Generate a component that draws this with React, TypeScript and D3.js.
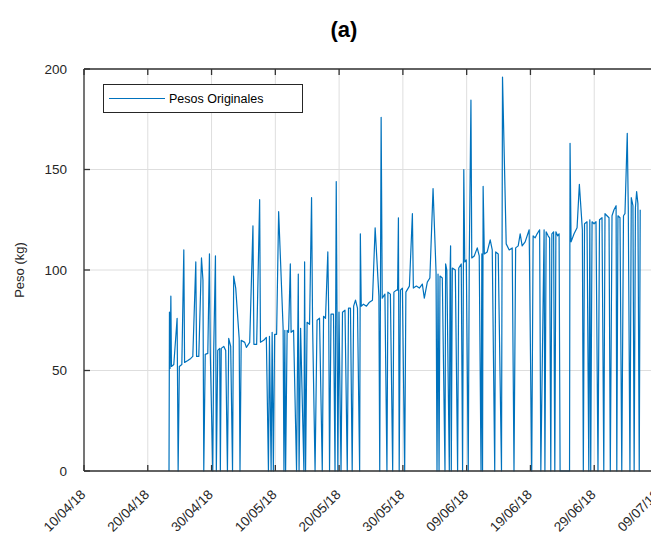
import React from 'react';
import * as d3 from 'd3';

// fecha de referencia (10/04/18), los registros van en dias desde ella
const inicio = Date.UTC(2018, 3, 10);

const diasTicks = [0, 10, 20, 30, 40, 50, 60, 70, 80, 90];
const etiquetasX = ['10/04/18', '20/04/18', '30/04/18', '10/05/18', '20/05/18', '30/05/18', '09/06/18', '19/06/18', '29/06/18', '09/07/18'];
const ticksY = [0, 50, 100, 150, 200];

// [dia, peso kg]
const pesosOriginales: [number, number][] = [
  [13.33, 0], [13.40, 79], [13.49, 51], [13.62, 87], [13.71, 52], [14.08, 53], [14.60, 76], [14.76, 0], [14.95, 52], [15.34, 53],
  [15.65, 110], [15.77, 54], [16.28, 55], [16.74, 56], [17.06, 57], [17.53, 104], [17.65, 57], [18.00, 57], [18.42, 106], [18.65, 95],
  [18.78, 0], [19.01, 58], [19.41, 58.5], [19.67, 108], [19.80, 59], [20.19, 0], [20.34, 60], [20.61, 107], [20.75, 0], [20.97, 60],
  [21.28, 61], [21.38, 0], [21.52, 61], [21.91, 62], [22.22, 60], [22.49, 0], [22.69, 66], [23.00, 62], [23.29, 0], [23.47, 97],
  [23.79, 91], [24.33, 66], [24.46, 0], [24.65, 65], [25.20, 64], [25.46, 61.5], [25.98, 64], [26.49, 122], [26.64, 63], [27.07, 63],
  [27.54, 135], [27.67, 64], [28.17, 65], [28.59, 66.5], [28.92, 0], [29.08, 67], [29.34, 0], [29.50, 69], [29.69, 0], [29.89, 68],
  [30.20, 68], [30.52, 129], [31.22, 71], [31.35, 0], [31.49, 70], [31.61, 0], [31.85, 70], [32.08, 69], [32.35, 103], [32.47, 69],
  [32.86, 70], [33.33, 0], [33.60, 98], [33.72, 0], [33.96, 71], [34.48, 0], [34.59, 104], [34.74, 0], [34.98, 74], [35.37, 73],
  [35.68, 136], [35.84, 73], [36.23, 0], [36.54, 75], [36.93, 76], [37.36, 0], [37.56, 77], [37.87, 76], [38.23, 109], [38.37, 77],
  [38.50, 0], [38.73, 78], [39.12, 78], [39.36, 0], [39.55, 144], [39.67, 79], [39.80, 0], [39.98, 79], [40.30, 0], [40.53, 79],
  [40.92, 80], [41.28, 0], [41.47, 81], [41.78, 81], [42.05, 0], [42.28, 82], [42.57, 85], [42.88, 81], [43.22, 0], [43.33, 118],
  [43.47, 82], [43.82, 83], [44.29, 82], [44.76, 84], [45.23, 85], [45.65, 121], [46.24, 87], [46.37, 0], [46.59, 176], [46.76, 86],
  [47.18, 88], [47.50, 0], [47.65, 89], [48.04, 88], [48.40, 0], [48.59, 89], [48.98, 90], [49.17, 90], [49.30, 126], [49.42, 0],
  [49.61, 90], [49.92, 91], [50.28, 0], [50.47, 89], [51.02, 92], [51.49, 128], [51.64, 91], [52.11, 92], [52.58, 91], [53.05, 93],
  [53.36, 86], [53.83, 94], [54.23, 96], [54.73, 140.5], [55.20, 99], [55.35, 0], [55.51, 98], [55.67, 0], [55.82, 97], [56.18, 96],
  [56.60, 0], [56.70, 103], [56.89, 100], [57.28, 0], [57.40, 100], [57.48, 112], [57.59, 0], [57.75, 101], [58.22, 100], [58.58, 0],
  [58.76, 101], [59.15, 103], [59.36, 0], [59.55, 150], [59.70, 104], [59.94, 105], [60.25, 0], [60.41, 106], [60.67, 184.5], [60.80, 106],
  [61.19, 107], [61.66, 111], [61.97, 107], [62.25, 0], [62.38, 108], [62.49, 0], [62.58, 141.6], [62.77, 108], [63.22, 109], [63.69, 115],
  [64.01, 110], [64.40, 0], [64.55, 109], [64.95, 108], [65.46, 0], [65.62, 196], [66.20, 113], [66.67, 110], [67.14, 111], [67.42, 0],
  [67.68, 111], [68.08, 112], [68.39, 118], [68.70, 112], [69.17, 114], [69.80, 120], [70.20, 0], [70.42, 117], [70.74, 116], [71.05, 118],
  [71.44, 120], [71.63, 0], [72.14, 120], [72.27, 0], [72.46, 119], [72.77, 117], [73.00, 116], [73.19, 0], [73.36, 118], [73.63, 119],
  [73.82, 0], [73.99, 119], [74.26, 117], [74.49, 118], [74.65, 0], [75.35, 0], [76.13, 0], [76.21, 163], [76.37, 114], [76.84, 118],
  [77.31, 121], [77.67, 142.6], [78.14, 120], [78.29, 0], [78.48, 123], [78.87, 124], [79.15, 0], [79.31, 125], [79.45, 0], [79.66, 124],
  [79.97, 123], [80.28, 124], [80.59, 0], [80.83, 125], [81.22, 126], [81.50, 0], [81.69, 128], [82.00, 127], [82.32, 126], [82.52, 0],
  [82.79, 127], [83.10, 130], [83.43, 132], [83.54, 0], [83.72, 127], [84.04, 126], [84.32, 0], [84.59, 127], [84.82, 128], [85.18, 168],
  [85.34, 131], [85.60, 0], [85.81, 136], [86.07, 132], [86.26, 0], [86.46, 131], [86.65, 139], [86.85, 133], [87.06, 0], [87.21, 130],
];

const W = 651;
const H = 539;
const margin = { top: 69, left: 84 };
const plotRight = 658;
const plotBottom = 471;
const azul = '#0072BD';
const ejeColor = '#333333';
const fuente = '"Liberation Sans", Arial, Helvetica, sans-serif';

const aFecha = (d: number) => new Date(inicio + d * 864e5);

export default function App() {
  const x = d3.scaleUtc()
    .domain([aFecha(0), aFecha(90)])
    .range([margin.left, plotRight]);
  const y = d3.scaleLinear().domain([0, 200]).range([plotBottom, margin.top]);

  const linea = d3.line<[number, number]>()
    .x(d => x(aFecha(d[0])))
    .y(d => y(d[1]));

  const tickLen = 6;

  return (
    <svg width={W} height={H} style={{ position: 'absolute', left: 0, top: 0, background: '#fff' }} fontFamily={fuente}>
      <text x={344} y={37} textAnchor="middle" fontSize={22} fontWeight="bold" fill="#000">(a)</text>

      {/* rejilla */}
      <g stroke="#dedede" strokeWidth={1}>
        {diasTicks.map(d => (
          <line key={'gx' + d} x1={x(aFecha(d))} x2={x(aFecha(d))} y1={margin.top} y2={plotBottom} />
        ))}
        {ticksY.map(v => (
          <line key={'gy' + v} x1={margin.left} x2={plotRight} y1={y(v)} y2={y(v)} />
        ))}
      </g>

      <path d={linea(pesosOriginales) || ''} fill="none" stroke={azul} strokeWidth={1.2} strokeLinejoin="round" />

      {/* ejes */}
      <g stroke={ejeColor} strokeWidth={1.3} fill="none">
        <line x1={margin.left} x2={plotRight} y1={plotBottom} y2={plotBottom} />
        <line x1={margin.left} x2={plotRight} y1={margin.top} y2={margin.top} />
        <line x1={margin.left} x2={margin.left} y1={margin.top} y2={plotBottom} />
        {diasTicks.map(d => (
          <g key={'tx' + d}>
            <line x1={x(aFecha(d))} x2={x(aFecha(d))} y1={plotBottom} y2={plotBottom - tickLen} />
            <line x1={x(aFecha(d))} x2={x(aFecha(d))} y1={margin.top} y2={margin.top + tickLen} />
          </g>
        ))}
        {ticksY.map(v => (
          <line key={'ty' + v} x1={margin.left} x2={margin.left + tickLen} y1={y(v)} y2={y(v)} />
        ))}
      </g>

      {ticksY.map(v => (
        <text key={'ly' + v} x={margin.left - 17} y={y(v)} dy="0.35em" textAnchor="end" fontSize={13.5} fill="#262626">{v}</text>
      ))}

      {diasTicks.map((d, i) => {
        const px = x(aFecha(d));
        return (
          <text key={'lx' + d} transform={`translate(${px - 1},${plotBottom + 21}) rotate(-45)`}
            textAnchor="end" dy="0.35em" fontSize={13.5} fill="#262626">{etiquetasX[i]}</text>
        );
      })}

      <text transform={`translate(24,${(margin.top + plotBottom) / 2}) rotate(-90)`} textAnchor="middle" fontSize={13} fill="#262626">Peso (kg)</text>

      {/* leyenda */}
      <rect x={103.5} y={84.5} width={199} height={28} fill="#fff" stroke="#262626" strokeWidth={1} />
      <line x1={109} x2={165} y1={98.5} y2={98.5} stroke={azul} strokeWidth={1.2} />
      <text x={169} y={103} fontSize={12.5} fill="#000">Pesos Originales</text>
    </svg>
  );
}
